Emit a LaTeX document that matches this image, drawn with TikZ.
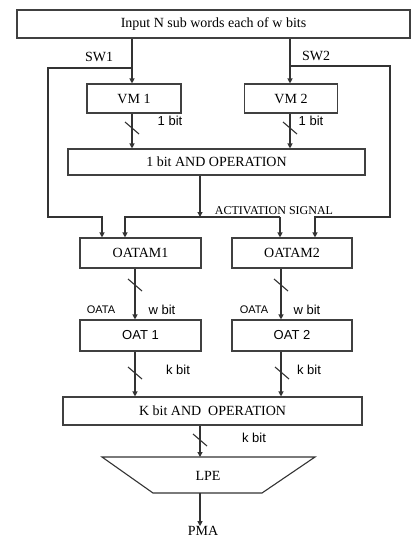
\documentclass[tikz,border=0pt]{standalone}
\usepackage{fontspec}
\setmainfont{Liberation Serif}
\newfontfamily\labfont{Liberation Sans}
\usetikzlibrary{arrows.meta}
\tikzset{
 box/.style={draw=black!75,line width=1.1pt,inner sep=0pt,font=\fontsize{14}{16}\selectfont},
 sbox/.style={box,font=\labfont\fontsize{13}{15}\selectfont},
 wire/.style={draw=black!80,line width=1.1pt},
 sig/.style={wire,-{Triangle[width=5pt,length=5pt]}},
 tagtxt/.style={font=\fontsize{14}{16}\selectfont,inner sep=0pt},
 bitlbl/.style={font=\labfont\fontsize{13}{15}\selectfont,inner sep=0pt}
}
\newcommand\busmark[2]{\draw[wire] ({#1-7},{#2-6}) -- ({#1+7},{#2+6});}
\begin{document}
\begin{tikzpicture}[x=1pt,y=-1pt]
 \useasboundingbox (0,0) rectangle (411,541);
 % blocks
 \node[box,minimum width=393pt,minimum height=28pt] (input) at (213.5,24) {Input N sub words each of w bits};
 \node[box,minimum width=94pt,minimum height=29pt] (vm1) at (134,98.5) {VM 1};
 \node[box,minimum width=93pt,minimum height=29pt] (vm2) at (291,98.5) {VM 2};
 \node[box,minimum width=297pt,minimum height=26pt] (and1) at (216.5,162) {1 bit AND OPERATION};
 \node[box,minimum width=121pt,minimum height=30pt] (oatam1) at (140.5,253) {OATAM1};
 \node[box,minimum width=120pt,minimum height=30pt] (oatam2) at (292,253) {OATAM2};
 \node[sbox,minimum width=121pt,minimum height=31pt] (oat1) at (140.5,335.5) {OAT 1};
 \node[sbox,minimum width=120pt,minimum height=31pt] (oat2) at (292,335.5) {OAT 2};
 \node[box,minimum width=299pt,minimum height=28pt] (and2) at (212.5,411) {K bit AND\ \ OPERATION};
 \draw[wire] (102,457) -- (315,457) -- (262,493) -- (153,493) -- cycle;
 \node[tagtxt] (lpe) at (208,476) {LPE};
 \node[tagtxt] (pma) at (203,531) {PMA};
 % points on the wires
 \coordinate (sw1) at (132,68);
 \coordinate (sw2) at (290,66);
 \coordinate (act) at (200,217);
 \coordinate (act1) at (125,217);
 \coordinate (act2) at (280,217);
 \coordinate (sw1in) at (102,217);
 \coordinate (sw2in) at (315,217);
 \coordinate (lane1) at (135,300);
 \coordinate (lane2) at (281,300);
 \coordinate (lpetop) at (200,457);
 \coordinate (lpebot) at (200,493);
 % connectors
 \draw[sig] (input.south -| sw1) -- (vm1.north -| sw1);
 \draw[sig] (input.south -| sw2) -- (vm2.north -| sw2);
 \draw[sig] (sw1) -| (48,217) -- (sw1in) -- (oatam1.north -| sw1in);
 \draw[sig] (sw2) -| (390,217) -- (sw2in) -- (oatam2.north -| sw2in);
 \draw[sig] (vm1.south -| sw1) -- (and1.north -| sw1);
 \draw[sig] (vm2.south -| sw2) -- (and1.north -| sw2);
 \draw[sig] (and1.south -| act) -- (act);
 \draw[sig] (act2) -- (act1) -- (oatam1.north -| act1);
 \draw[sig] (act2) -- (oatam2.north -| act2);
 \draw[sig] (oatam1.south -| lane1) -- (oat1.north -| lane1);
 \draw[sig] (oatam2.south -| lane2) -- (oat2.north -| lane2);
 \draw[sig] (oat1.south -| lane1) -- (and2.north -| lane1);
 \draw[sig] (oat2.south -| lane2) -- (and2.north -| lane2);
 \draw[sig] (and2.south -| lpetop) -- (lpetop);
 \draw[sig] (lpebot) -- (pma.north -| lpebot);
 % bus widths
 \busmark{132}{128}
 \busmark{290}{128}
 \busmark{135}{285}
 \busmark{281}{285}
 \busmark{135}{373}
 \busmark{282}{373}
 \busmark{200}{440}
 % labels
 \node[tagtxt] (sw1lbl) at (99,57) {SW1};
 \node[tagtxt] (sw2lbl) at (316,56) {SW2};
 \node[bitlbl] (bit1) at (170,121) {1 bit};
 \node[bitlbl] (bit2) at (311,121) {1 bit};
 \node[font=\fontsize{12}{14}\selectfont,inner sep=0pt] (actlbl) at (274,211) {ACTIVATION SIGNAL};
 \node[bitlbl,font=\labfont\fontsize{11}{13}\selectfont] (oata1) at (101,310) {OATA};
 \node[bitlbl,font=\labfont\fontsize{11}{13}\selectfont] (oata2) at (254,310) {OATA};
 \node[bitlbl] (wbit1) at (162,310) {w bit};
 \node[bitlbl] (wbit2) at (307,310) {w bit};
 \node[bitlbl] (kbit1) at (178,370) {k bit};
 \node[bitlbl] (kbit2) at (309,370) {k bit};
 \node[bitlbl] (kbit3) at (254,438) {k bit};
\end{tikzpicture}
\end{document}
